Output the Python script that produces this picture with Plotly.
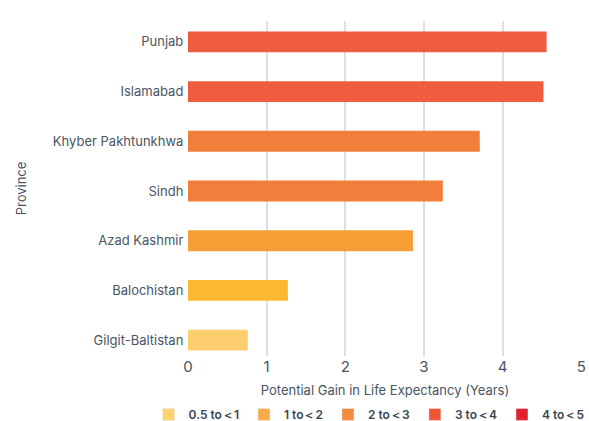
import plotly.graph_objects as go

# data
provinces = ["Gilgit-Baltistan", "Balochistan", "Azad Kashmir", "Sindh",
             "Khyber Pakhtunkhwa", "Islamabad", "Punjab"]
gain_years = [0.76, 1.27, 2.86, 3.24, 3.71, 4.52, 4.56]
bin_labels = ["0.5 to＜1", "1 to＜2", "2 to＜3", "3 to＜4", "4 to＜5"]
x_ticks = [0, 1, 2, 3, 4, 5]

# styles
BAR_COLORS = ["#FDCE6E", "#FBB933", "#F69E35", "#F27E3B",
              "#F27E3B", "#F05C3F", "#F05C3F"]
BIN_COLORS = ["#FDD36E", "#F9AA4A", "#F48A3E", "#EF5636", "#E0202A"]
TEXT = "#4A5561"
GRID = "#D6E1E9"
FONT = "Inter, Roboto, sans-serif"

fig = go.Figure()

fig.add_trace(go.Bar(
    x=gain_years, y=provinces,
    orientation="h",
    marker=dict(color=BAR_COLORS, line=dict(width=0)),
    width=0.42,
    showlegend=False,
    hoverinfo="x+y",
))

# legend-only entries for the colour bins
for label, color in zip(bin_labels, BIN_COLORS):
    fig.add_trace(go.Bar(
        x=[None], y=[None],
        orientation="h",
        name=label,
        marker=dict(color=color),
        showlegend=True,
    ))

fig.update_layout(
    width=589, height=421,
    paper_bgcolor="white",
    plot_bgcolor="white",
    font=dict(family=FONT, color=TEXT, size=13),
    margin=dict(l=188, r=7, t=21, b=65, autoexpand=False),
    barmode="overlay",
    xaxis=dict(
        title=dict(text="Potential Gain in Life Expectancy (Years)",
                   font=dict(size=13), standoff=10),
        range=[0, 5.01],
        tickvals=x_ticks,
        showgrid=True, gridcolor=GRID, gridwidth=1.5,
        zeroline=False, showline=False,
        ticks="", tickfont=dict(size=15),
        automargin=False,
        fixedrange=True,
    ),
    yaxis=dict(
        title=dict(text="Province", font=dict(size=13), standoff=23),
        categoryorder="array", categoryarray=provinces,
        range=[-0.32, 6.42],
        showgrid=False, zeroline=False, showline=False,
        ticks="", ticksuffix=" ",
        tickfont=dict(size=13),
        automargin=False,
        fixedrange=True,
    ),
    legend=dict(
        orientation="h",
        x=-0.1, xanchor="left",
        y=-0.131, yanchor="top",
        font=dict(size=12, color="#3A4550", weight=600),
        itemwidth=30,
        traceorder="normal",
    ),
)

# drop the default 8px body margin so the figure fills the window
fig.write_html("out.html", config={"displayModeBar": False},
               post_script="document.body.style.margin='0';")
